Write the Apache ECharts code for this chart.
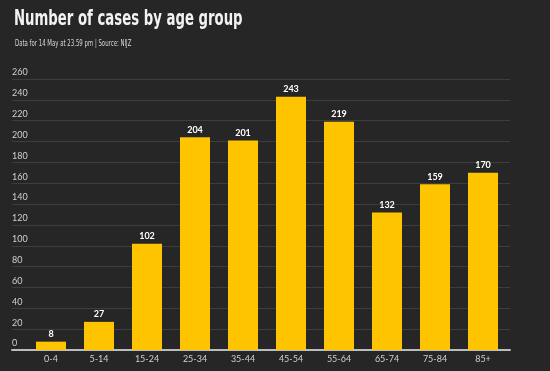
<!DOCTYPE html>
<html><head><meta charset="utf-8">
<script src="https://cdn.jsdelivr.net/npm/echarts@6/dist/echarts.min.js"></script>
<style>html,body{margin:0;padding:0;background:#262626;}#c{width:550px;height:371px;}</style>
</head><body><div id="c"></div>
<script>
const categories = ['0-4','5-14','15-24','25-34','35-44','45-54','55-64','65-74','75-84','85+'];
const cases = [8, 27, 102, 204, 201, 243, 219, 132, 159, 170];
const yMax = 260, yStep = 20;
const titleText = 'Number of cases by age group';
const subtitleText = 'Data for 14 May at 23.59 pm | Source: NIJZ';

const chart = echarts.init(document.getElementById('c'), null, {renderer:'canvas'});
chart.setOption({
  backgroundColor: '#262626',
  animation: false,
  graphic: [{
    type:'text', left: 14, top: 8, scaleX: 0.67,
    style:{text: titleText, fill:'#f2f2f2', font:'bold 22px "DejaVu Sans Condensed"'}
  },{
    type:'text', left: 15, top: 40, scaleX: 0.75,
    style:{text: subtitleText, fill:'#d8d8d8', font:'8px "DejaVu Sans Condensed"'}
  }],
  grid: [
    {left: 27, right: 43, top: 79, bottom: 21},
    {left: 12, right: 40, top: 79, bottom: 21}
  ],
  xAxis: [
    {type:'category', data: categories, gridIndex:0,
     axisLine:{show:false}, axisTick:{show:false},
     axisLabel:{color:'#cfcfcf', fontSize:9, fontFamily:'Lato', margin:5}},
    {type:'value', gridIndex:1, min:0, max:1,
     axisLine:{show:true, onZero:false, lineStyle:{color:'#bdbdbd', width:2}},
     axisTick:{show:false}, axisLabel:{show:false}, splitLine:{show:false}}
  ],
  yAxis: [
    {type:'value', gridIndex:0, min:0, max:yMax, interval:yStep,
     axisLabel:{show:false}, splitLine:{show:false}, axisLine:{show:false}, axisTick:{show:false}},
    {type:'value', gridIndex:1, min:0, max:yMax, interval:yStep,
     axisLine:{show:false}, axisTick:{show:false},
     splitLine:{show:true, lineStyle:{color:'#3d3d3d', width:1}},
     axisLabel:{inside:true, color:'#d0d0d0', fontSize:9, fontFamily:'Lato', verticalAlign:'bottom', padding:[0,0,2,0], margin:0}}
  ],
  series: [{
    type:'bar', xAxisIndex:0, yAxisIndex:0,
    data: cases, barWidth: 30,
    itemStyle:{color:'#ffc400'},
    label:{show:true, position:'top', color:'#ffffff', fontWeight:'bold', fontSize:9, fontFamily:'Lato', distance:3}
  }]
});
</script></body></html>
